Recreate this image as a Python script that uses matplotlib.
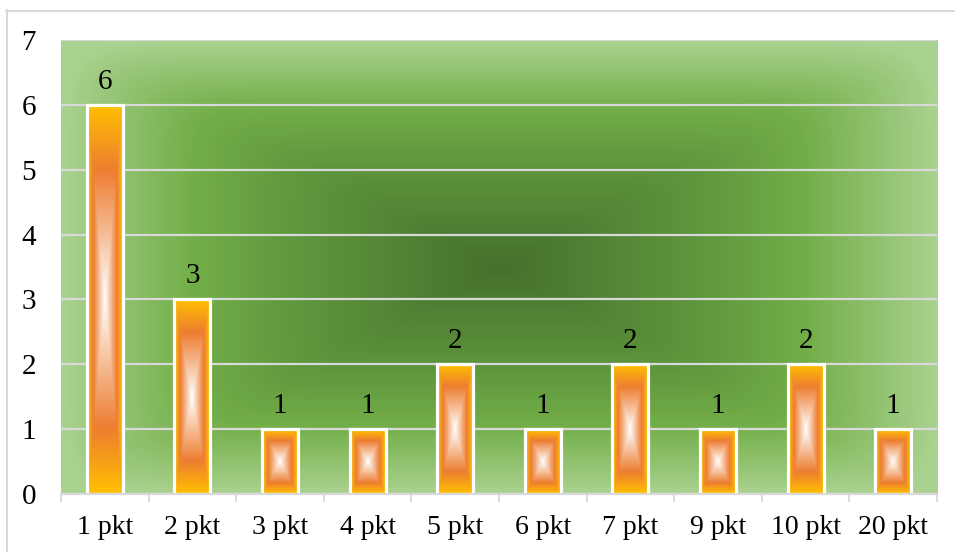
import numpy as np
import matplotlib
matplotlib.use("Agg")
import matplotlib.pyplot as plt
from matplotlib.colors import LinearSegmentedColormap, to_rgb
from matplotlib.lines import Line2D

categories = ["1 pkt", "2 pkt", "3 pkt", "4 pkt", "5 pkt", "6 pkt", "7 pkt", "9 pkt", "10 pkt", "20 pkt"]
values = [6, 3, 1, 1, 2, 1, 2, 1, 2, 1]
yticks = [0, 1, 2, 3, 4, 5, 6, 7]

plt.rcParams['font.family'] = ['Liberation Serif', 'DejaVu Serif']

W, H, DPI = 955, 552, 100
fig = plt.figure(figsize=(W / DPI, H / DPI), dpi=DPI)
fig.patch.set_facecolor('white')

L, R, T, B = 61, 937, 40, 494
ax = fig.add_axes([L / W, (H - B) / H, (R - L) / W, (B - T) / H])

n = len(categories)
ax.set_xlim(-0.5, n - 0.5)
ax.set_ylim(0, 7)

def rect_grad(nx, ny, stops, p=None):
    u = np.abs(np.linspace(-1, 1, nx))
    v = np.abs(np.linspace(-1, 1, ny))
    if p is None:
        t = np.maximum(u[None, :], v[:, None])
    else:
        t = np.clip((u[None, :] ** p + v[:, None] ** p) ** (1.0 / p), 0, 1)
    cmap = LinearSegmentedColormap.from_list('g', [(q, to_rgb(c)) for q, c in stops])
    return cmap(t)

# background (rectangular path gradient, slightly softened)
bg_stops = [(0.0, '#46702C'), (0.45, '#5E963D'), (0.7, '#72AE48'), (1.0, '#AAD28F')]
bg = rect_grad(600, 320, bg_stops, p=12)
ax.imshow(bg, extent=(-0.5, n - 0.5, 0, 7), aspect='auto', zorder=0, interpolation='bilinear')

# gridlines
ax.set_yticks(yticks)
ax.yaxis.grid(True, color='#D9D9D9', linewidth=1.6)
ax.set_axisbelow(True)

# bars
bw = 0.41
bar_stops = [(0.0, '#FFFFFF'), (0.66, '#ED7D31'), (1.0, '#FFC000')]
for i, v in enumerate(values):
    img = rect_grad(60, max(40, int(60 * v)), bar_stops)
    ax.imshow(img, extent=(i - bw / 2, i + bw / 2, 0, v), aspect='auto', zorder=2,
              interpolation='bilinear')
    ax.bar(i, v, width=bw, facecolor='none', edgecolor='white', linewidth=2.3, zorder=3)
    ax.annotate(str(v), xy=(i, v), xytext=(0, 11.5), textcoords='offset points',
                ha='center', va='baseline', fontsize=21, color='black', zorder=4)

ax.set_xlim(-0.5, n - 0.5)
ax.set_ylim(0, 7)

# axes styling
for s in ['top', 'right', 'left']:
    ax.spines[s].set_visible(False)
ax.spines['bottom'].set_color('#D9D9D9')
ax.spines['bottom'].set_linewidth(1.6)
ax.spines['bottom'].set_zorder(5)

ax.set_xticks(range(n))
ax.set_xticklabels(categories, fontsize=20)
ax.set_xticks(np.arange(-0.5, n, 1.0), minor=True)
ax.tick_params(axis='x', which='major', length=0, pad=15)
ax.tick_params(axis='x', which='minor', length=6, width=1.4, color='#D9D9D9', direction='out')
ax.tick_params(axis='y', length=0, pad=18, labelsize=21)

# outer chart frame
fig.add_artist(Line2D([6.5 / W, 6.5 / W], [0, 1 - 10 / H], color='#D9D9D9', linewidth=1.4,
                      transform=fig.transFigure))
fig.add_artist(Line2D([6 / W, 1], [1 - 10.5 / H, 1 - 10.5 / H], color='#D9D9D9', linewidth=1.4,
                      transform=fig.transFigure))

fig.savefig('out.png', dpi=DPI)
